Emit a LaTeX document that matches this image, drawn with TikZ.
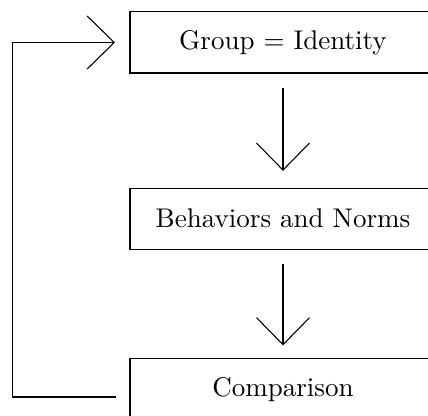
\documentclass[tikz,border=0pt]{standalone}
\usetikzlibrary{arrows.meta}
\begin{document}
\begin{tikzpicture}[x=0.37pt,y=-0.37pt,
  box/.style={draw, line width=0.4pt, minimum width=113.2pt, minimum height=22.6pt, inner sep=0pt, font=\normalsize},
  arr/.style={line width=0.4pt, -{Straight Barb[length=10pt,width=19.6pt,line cap=butt,line join=miter]}}]
\clip (0,0) rectangle (428,416);
\useasboundingbox (0,0) rectangle (428,416);
\node[box] (A) at (283,42.5) {Group $=$ Identity};
\node[box] (B) at (283,218.7) {Behaviors and Norms};
\node[box] (C) at (283,389.5) {Comparison};
\draw[arr, shorten <=5.5pt, shorten >=6.2pt] (A) -- (B);
\draw[arr, shorten <=5.2pt, shorten >=4.8pt] (B) -- (C);
\coordinate (cl) at (116,397);
\coordinate (lt) at (115,42.5);
\draw[arr] (cl) -- (12.7,397) |- (lt);
\end{tikzpicture}
\end{document}
